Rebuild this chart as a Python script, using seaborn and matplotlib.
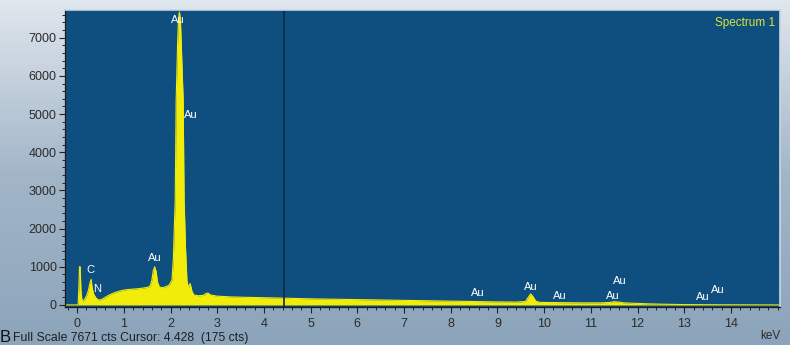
import numpy as np
import pandas as pd
import matplotlib.pyplot as plt
import seaborn as sns
from matplotlib.ticker import MultipleLocator

# --- data ---
energy_kev = [
    -0.25, 0.0, 0.02, 0.035, 0.05, 0.065, 0.08, 0.1, 0.12, 0.16, 0.2, 0.24,
    0.27, 0.3, 0.32, 0.35, 0.37, 0.385, 0.41, 0.46, 0.52, 0.6, 0.7, 0.8, 0.9,
    1.0, 1.1, 1.2, 1.3, 1.4, 1.5, 1.56, 1.6, 1.63, 1.66, 1.69, 1.72, 1.76,
    1.82, 1.9, 1.97, 2.03, 2.06, 2.08, 2.10, 2.12, 2.15, 2.17, 2.19, 2.21,
    2.23, 2.27, 2.29, 2.32, 2.35, 2.38, 2.42, 2.46, 2.5, 2.6, 2.7, 2.76, 2.8,
    2.86, 3.0, 3.3, 3.6, 4.0, 4.5, 5.0, 5.5, 6.0, 6.5, 7.0, 7.5, 8.0, 8.5,
    9.0, 9.4, 9.6, 9.66, 9.71, 9.76, 9.82, 9.9, 10.0, 10.4, 10.8, 11.2,
    11.4, 11.5, 11.6, 11.7, 11.9, 12.2, 12.5, 13.0, 13.5, 14.0, 14.5, 15.05,
]
counts = [
    0, 0, 0, 400, 1000, 1000, 400, 150, 90, 150, 230, 380,
    560, 670, 450, 300, 240, 220, 170, 130, 140, 200, 270, 320, 360,
    390, 405, 415, 425, 440, 460, 490, 650, 900, 1000, 880, 600, 470,
    450, 480, 520, 650, 1200, 2000, 2750, 5370, 6800, 7500, 7671, 7500,
    6800, 5370, 2750, 1500, 650, 450, 560, 350, 260, 240, 250, 300, 310,
    260, 230, 210, 200, 190, 175, 160, 150, 140, 130, 120, 110, 100, 90,
    80, 75, 90, 200, 290, 220, 100, 70, 65, 60, 55, 55,
    65, 85, 75, 55, 45, 30, 20, 10, 6, 4, 2, 0,
]
spectrum = pd.DataFrame({"keV": energy_kev, "cts": counts})

# peak labels (text, keV, cts)
label_text = ["Au", "Au", "Au", "C", "N", "Au", "Au", "Au", "Au", "Au", "Au", "Au"]
label_kev = [2.16, 2.44, 1.67, 0.28, 0.43, 8.58, 9.72, 10.33, 11.62, 11.48, 13.4, 13.72]
label_cts = [7460, 4970, 1230, 920, 420, 300, 470, 240, 630, 240, 200, 390]

cursor_kev = 4.428
full_scale = 7671
cursor_cts = 175

# --- style ---
sns.set_theme(style="ticks")
plt.rcParams["font.family"] = ["Liberation Sans", "DejaVu Sans"]

plot_bg = "#0e4f7f"
yellow = "#f2ec0a"

fig = plt.figure(figsize=(7.9, 3.45), dpi=100)

# light grey-blue backdrop behind the plot
bg = fig.add_axes([0, 0, 1, 1], zorder=-1)
grad = np.linspace(0, 1, 64).reshape(-1, 1)
bg.imshow(grad, aspect="auto",
          cmap=sns.blend_palette(["#dfe6ed", "#a3b6c8", "#8ca4bb"], as_cmap=True),
          extent=[0, 1, 0, 1])
bg.set_axis_off()

ax = fig.add_axes([0.0823, 0.110, 0.905, 0.861])
ax.set_facecolor(plot_bg)

sns.lineplot(data=spectrum, x="keV", y="cts", ax=ax, color=yellow, lw=0.8)
ax.fill_between(spectrum["keV"], 0, spectrum["cts"], color=yellow, lw=0)

ax.axvline(cursor_kev, color="#0a2a44", lw=1.2)

for t, xk, yc in zip(label_text, label_kev, label_cts):
    ax.text(xk, yc, t, color="white", fontsize=8, ha="center", va="center")

ax.text(0.993, 0.978, "Spectrum 1", transform=ax.transAxes, color="#d8e63a",
        fontsize=8.5, ha="right", va="top")

ax.set_xlim(-0.26, 15.05)
ax.set_ylim(-55, 7725)
ax.xaxis.set_major_locator(MultipleLocator(1))
ax.xaxis.set_minor_locator(MultipleLocator(0.2))
ax.yaxis.set_major_locator(MultipleLocator(1000))
ax.yaxis.set_minor_locator(MultipleLocator(200))
ax.set_xticks(range(0, 15))
ax.tick_params(axis="both", which="major", direction="out", length=4, width=0.8,
               color="#222222", labelcolor="#2b2b2b", labelsize=9)
ax.tick_params(axis="x", which="major", pad=4)
ax.tick_params(axis="y", which="major", pad=2)
ax.tick_params(axis="both", which="minor", direction="out", length=2.5, width=0.7,
               color="#222222")
ax.set_xlabel("")
ax.set_ylabel("")
ax.grid(False)

for side in ["left", "bottom"]:
    ax.spines[side].set_color("#1a1a1a")
    ax.spines[side].set_linewidth(0.9)
for side in ["top", "right"]:
    ax.spines[side].set_color("#c9d5e1")
    ax.spines[side].set_linewidth(1.2)

fig.text(0.975, 0.008, "keV", color="#2b2b2b", fontsize=8.5, ha="center", va="bottom")
fig.text(0.0, 0.0, "B", color="#111111", fontsize=12, ha="left", va="bottom")
fig.text(0.016, 0.004,
         f"Full Scale {full_scale} cts Cursor: {cursor_kev:.3f}  ({cursor_cts} cts)",
         color="#1e1e1e", fontsize=8.8, ha="left", va="bottom")

plt.savefig("out.png", dpi=100)
